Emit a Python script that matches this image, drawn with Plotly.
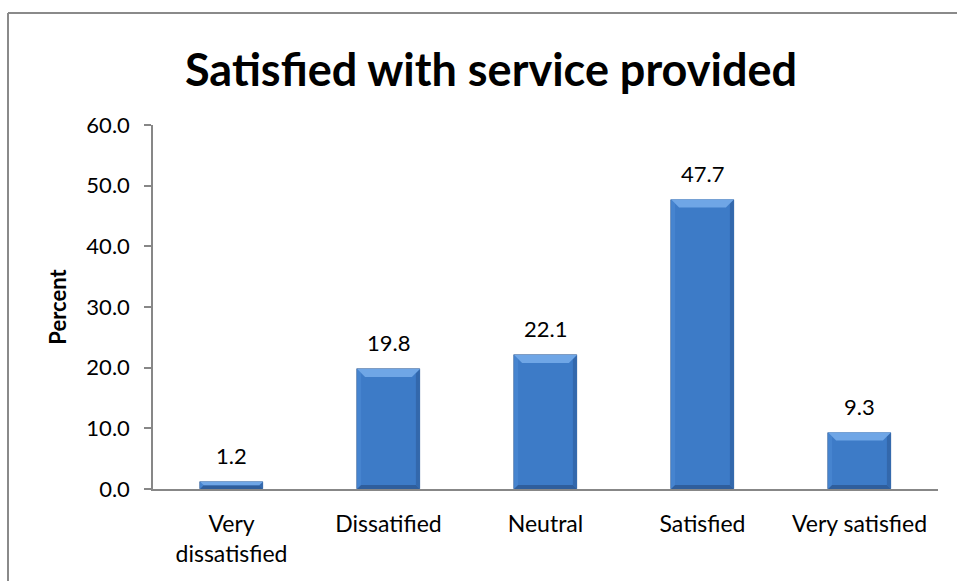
import plotly.graph_objects as go

# Survey results: satisfaction with the service provided
categories = ["Very<br>dissatisfied", "Dissatified", "Neutral", "Satisfied", "Very satisfied"]
percent = [1.2, 19.8, 22.1, 47.7, 9.3]
y_ticks = [0, 10, 20, 30, 40, 50, 60]

W, H = 957, 581
M_L, M_R, M_T, M_B = 153, 19, 125, 92
PLOT_W = W - M_L - M_R
PLOT_H = H - M_T - M_B
Y_MAX = 60
GAP_RATIO = 0.4  # bar width as a fraction of the category slot

FONT = "Lato, 'Open Sans', sans-serif"
FACE = "#3D7BC7"
TOP = "#6FA6E6"
LEFT = "#4684CF"
RIGHT = "#3368AC"
BOTTOM = "#2F5E9C"

x_pos = list(range(len(categories)))

fig = go.Figure()
fig.add_trace(go.Bar(
    x=x_pos, y=percent, width=GAP_RATIO,
    marker=dict(color=FACE, line=dict(color="#2A5690", width=0.6)),
    hoverinfo="skip", showlegend=False,
))

# Bevelled edges on each bar, sized in pixels around the bar's own value
px_per_unit = PLOT_H / Y_MAX
half_w = GAP_RATIO * (PLOT_W / len(categories)) / 2
shapes = []
for xi, v in zip(x_pos, percent):
    h = v * px_per_unit
    b = min(8.0, h / 2.0)
    s = min(4.0, h / 2.0)
    common = dict(type="path", xref="x", yref="y", xsizemode="pixel", ysizemode="pixel",
                  xanchor=xi, yanchor=0, line=dict(width=0), layer="above")
    # left side
    shapes.append(dict(common, fillcolor=LEFT,
                       path=f"M {-half_w},0 L {-half_w},{h} L {-half_w + s},{h - s} L {-half_w + s},{s} Z"))
    # right side
    shapes.append(dict(common, fillcolor=RIGHT,
                       path=f"M {half_w},0 L {half_w},{h} L {half_w - s},{h - s} L {half_w - s},{s} Z"))
    # bottom edge
    shapes.append(dict(common, fillcolor=BOTTOM,
                       path=f"M {-half_w},0 L {half_w},0 L {half_w - s},{s} L {-half_w + s},{s} Z"))
    # top edge
    shapes.append(dict(common, fillcolor=TOP,
                       path=f"M {-half_w},{h} L {half_w},{h} L {half_w - b},{h - b} L {-half_w + b},{h - b} Z"))

# Chart frame (top and left edges)
fx = (8 - M_L) / PLOT_W
fy_top = (PLOT_H - 13 + M_T) / PLOT_H
fy_bot = -(M_B + 10) / PLOT_H
shapes.append(dict(type="line", xref="paper", yref="paper", x0=fx, x1=(W + 5 - M_L) / PLOT_W,
                   y0=fy_top, y1=fy_top, line=dict(color="#8A8A8A", width=2)))
shapes.append(dict(type="line", xref="paper", yref="paper", x0=fx, x1=fx,
                   y0=fy_top, y1=fy_bot, line=dict(color="#8A8A8A", width=2)))

annotations = [
    dict(x=xi, y=v, xref="x", yref="y", text=f"{v:.1f}", showarrow=False,
         yanchor="middle", yshift=26, font=dict(family=FONT, size=22, color="#000000"))
    for xi, v in zip(x_pos, percent)
]

fig.update_layout(
    width=W, height=H,
    margin=dict(l=M_L, r=M_R, t=M_T, b=M_B),
    paper_bgcolor="white", plot_bgcolor="white",
    title=dict(text="<b>Satisfied with service provided</b>", x=491 / W, xanchor="center",
               y=1 - 70 / H, yanchor="middle", font=dict(family=FONT, size=45, color="#000000")),
    shapes=shapes,
    annotations=annotations,
    bargap=0,
)
fig.update_xaxes(
    range=[-0.5, len(categories) - 0.5],
    tickvals=x_pos, ticktext=categories,
    showline=True, linecolor="#878787", linewidth=1.5,
    ticks="", showgrid=False, zeroline=False,
    tickfont=dict(family=FONT, size=23, color="#000000"),
    ticklabelstandoff=14,
)
fig.update_yaxes(
    range=[0, Y_MAX], tickvals=y_ticks, ticktext=[f"{t:.1f}" for t in y_ticks],
    showline=True, linecolor="#878787", linewidth=1.5,
    ticks="outside", ticklen=7, tickcolor="#878787", tickwidth=1.5,
    showgrid=False, zeroline=False,
    tickfont=dict(family=FONT, size=22, color="#000000"),
    ticklabelstandoff=10,
    title=dict(text="<b>Percent</b>", standoff=14, font=dict(family=FONT, size=22, color="#000000")),
)

fig.write_html("out.html")
